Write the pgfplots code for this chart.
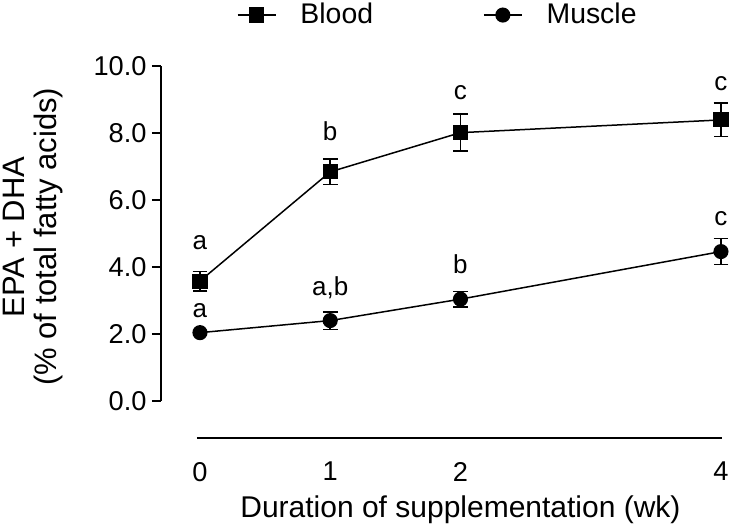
\documentclass[border=0pt]{standalone}
\usepackage{fontspec}
\setmainfont{Liberation Sans}
\usepackage{pgfplots}
\usepackage{pgfplotstable}
\pgfplotsset{compat=1.18}
\pgfplotstableread{
x y e
0 3.58 0.29
1 6.84 0.38
2 8.01 0.55
4 8.39 0.50
}\blood
\pgfplotstableread{
x y e
0 2.04 0.05
1 2.40 0.26
2 3.04 0.23
4 4.46 0.39
}\muscle
\begin{document}
\begin{tikzpicture}
\useasboundingbox (-80.45pt,-45.075pt) rectangle (284.55pt,218.925pt);
\begin{axis}[
 at={(0pt,0pt)}, anchor=south west,
 scale only axis, width=281.34pt, height=185.925pt,
 xmin=-0.3, xmax=4.02, ymin=-1.1, ymax=10,
 axis line style={draw=none},
 clip=false,
 xtick={0,1,2,4}, xticklabels={0,1,2,4},
 ytick={0,2,4,6,8,10}, yticklabels={0.0,2.0,4.0,6.0,8.0,10.0},
 xtick style={draw=none},
 ytick style={line width=0.9pt, black},
 tick align=outside, major tick length=4.5pt,
 xtick pos=left, ytick pos=left,
 xticklabel pos=left, yticklabel pos=left,
 ticklabel style={font=\fontsize{13.6}{16}\selectfont},
 yticklabel style={anchor=east, inner sep=0pt, xshift=-2.5pt},
 xticklabel style={anchor=north, inner sep=0pt, yshift=-7.5pt},
 legend columns=2,
 legend style={draw=none, fill=none, at={(0.1352,1.137)}, anchor=west, inner sep=0pt, outer sep=0pt,
   font=\fontsize{14.2}{17}\selectfont, nodes={inner sep=0pt},
   /tikz/every odd column/.append style={column sep=12pt},
   /tikz/every even column/.append style={column sep=55pt}},
 legend image code/.code={\draw[mark repeat=2,mark phase=2] plot coordinates {(0pt,0pt) (9.5pt,0pt) (19pt,0pt)};},
]
\addplot[black, line width=0.75pt, mark=square*, mark size=3.4pt, mark options={solid, fill=black, line width=0.75pt},
  error bars/.cd, y dir=both, y explicit, error bar style={line width=0.75pt, black},
  error mark options={rotate=90, mark size=3.7pt, line width=0.75pt, black}]
  table[x=x, y=y, y error=e] {\blood};
\addlegendentry{Blood}
\addplot[black, line width=0.75pt, mark=*, mark size=3.4pt, mark options={solid, fill=black, line width=0.75pt},
  error bars/.cd, y dir=both, y explicit, error bar style={line width=0.75pt, black},
  error mark options={rotate=90, mark size=3.7pt, line width=0.75pt, black}]
  table[x=x, y=y, y error=e] {\muscle};
\addlegendentry{Muscle}
% significance letters
\begin{scope}[every node/.style={anchor=base, font=\fontsize{13}{15}\selectfont}]
\node at (axis cs:0,4.51) {a};
\node at (axis cs:1,7.79) {b};
\node at (axis cs:2,8.99) {c};
\node at (axis cs:4,9.28) {c};
\node at (axis cs:0,2.48) {a};
\node at (axis cs:1,3.16) {a,b};
\node at (axis cs:2,3.82) {b};
\node at (axis cs:4,5.25) {c};
\end{scope}
% axis lines
\draw[line width=0.9pt] (axis cs:-0.3,0) -- (axis cs:-0.3,10);
\draw[line width=0.9pt] (axis cs:-0.023,-1.1) -- (axis cs:4.008,-1.1);
% axis titles
\node[rotate=90, anchor=base, font=\fontsize{15.5}{18}\selectfont] at (axis cs:-1.3436,4.9) {EPA + DHA};
\node[rotate=90, anchor=base, font=\fontsize{15.5}{18}\selectfont] at (axis cs:-1.098,4.9) {(\% of total fatty acids)};
\node[anchor=base, font=\fontsize{15}{18}\selectfont] at (axis cs:2,-3.49) {Duration of supplementation (wk)};
\end{axis}
\end{tikzpicture}
\end{document}
